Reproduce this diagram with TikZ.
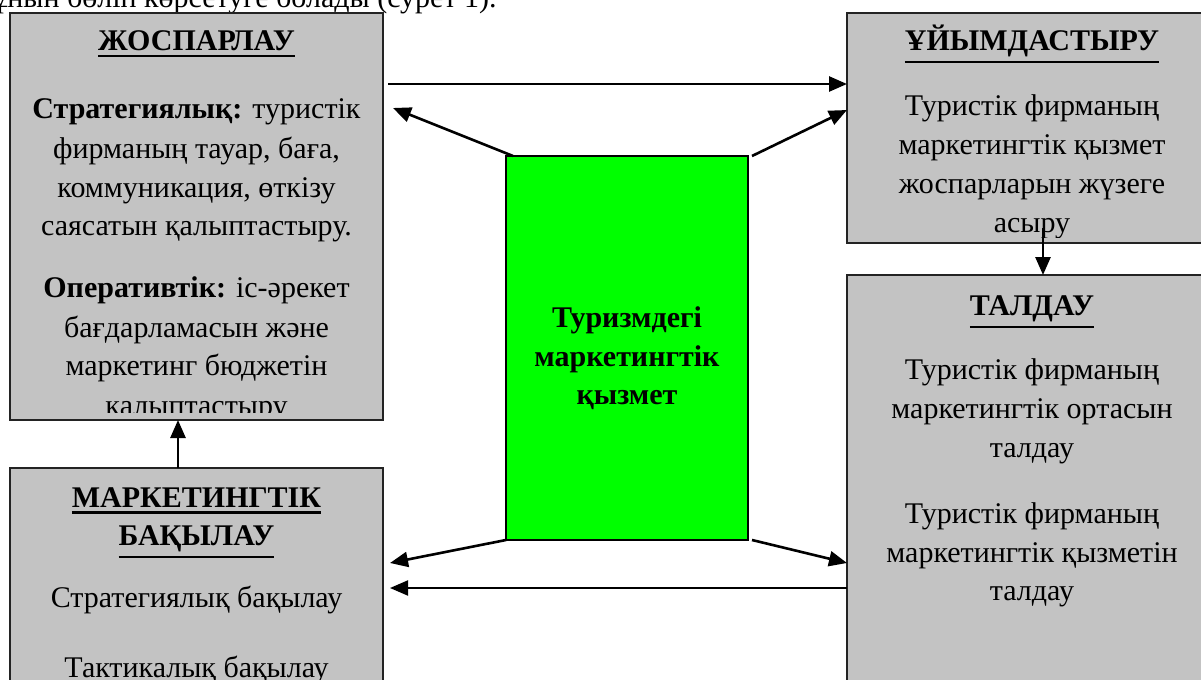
\documentclass[tikz,border=0pt]{standalone}
\usepackage{fontspec}
\setmainfont{Liberation Serif}
\usetikzlibrary{arrows.meta,calc}
\definecolor{boxgray}{RGB}{195,195,195}
\definecolor{boxline}{RGB}{35,35,35}
\definecolor{coregreen}{RGB}{0,255,0}
\newcommand\ttl[1]{\vtop{\hbox{\bfseries #1}\kern2.2pt\hrule height 1.3pt}}
\begin{document}
\begin{tikzpicture}[x=0.5pt,y=-0.5pt,
  box/.style={draw=boxline, line width=1pt, fill=boxgray, anchor=north west, inner sep=0pt, outer sep=0pt},
  corebox/.style={draw=black, line width=0.8pt, fill=coregreen, anchor=north west, inner sep=0pt, outer sep=0pt},
  txt/.style={anchor=base, inner sep=0pt, font=\fontsize{15pt}{18pt}\selectfont},
  arr/.style={-{Triangle[length=9pt,width=7.5pt]}, line width=1.3pt, draw=black}]
\useasboundingbox (0,0) rectangle (1201,680);
\clip (0,0) rectangle (1201,680);

% cut-off line of body text above the figure
\node[txt, anchor=base east] (intro) at (497,7) {змұнын бөліп көрсетуге болады (сурет 1).};

% boxes
\node[box, minimum width=186.5pt, minimum height=203.5pt] (plan) at (10,13) {};
\node[box, minimum width=186.5pt, minimum height=130pt] (ctrl) at (10,468) {};
\node[box, minimum width=185pt, minimum height=115pt] (org) at (847,13) {};
\node[box, minimum width=185pt, minimum height=222.5pt] (anal) at (847,275) {};
\node[corebox, minimum width=121pt, minimum height=192pt] (core) at (506,156) {};

% text of ЖОСПАРЛАУ
\begin{scope}
\clip (plan.north west) rectangle ($(plan.south east)+(0,-8)$);
\node[txt] (planT) at (196.5,50) {\ttl{ЖОСПАРЛАУ}};
\node[txt] (p1) at (196.5,119) {\textbf{Стратегиялық:} туристік};
\node[txt] (p2) at (196.5,158) {фирманың тауар, баға,};
\node[txt] (p3) at (196.5,197) {коммуникация, өткізу};
\node[txt] (p4) at (196.5,235) {саясатын қалыптастыру.};
\node[txt] (p5) at (196.5,297) {\textbf{Оперативтік:} іс-әрекет};
\node[txt] (p6) at (196.5,337) {бағдарламасын және};
\node[txt] (p7) at (196.5,375) {маркетинг бюджетін};
\node[txt] (p8) at (196.5,415) {қалыптастыру};
\end{scope}

% text of МАРКЕТИНГТІК БАҚЫЛАУ
\node[txt] (ctrlT1) at (196.5,507) {\ttl{МАРКЕТИНГТІК}};
\node[txt] (ctrlT2) at (196.5,545) {\ttl{БАҚЫЛАУ}};
\node[txt] (c1) at (196.5,607) {Стратегиялық бақылау};
\node[txt] (c2) at (196.5,677) {Тактикалық бақылау};

% text of ҰЙЫМДАСТЫРУ
\begin{scope}
\clip (org.north west) rectangle ($(org.south east)+(0,-6)$);
\node[txt] (orgT) at (1032,50) {\ttl{ҰЙЫМДАСТЫРУ}};
\node[txt] (o1) at (1032,115) {Туристік фирманың};
\node[txt] (o2) at (1032,154) {маркетингтік қызмет};
\node[txt] (o3) at (1032,193) {жоспарларын жүзеге};
\node[txt] (o4) at (1032,232) {асыру};
\end{scope}

% text of ТАЛДАУ
\node[txt] (analT) at (1032,315) {\ttl{ТАЛДАУ}};
\node[txt] (a1) at (1032,379) {Туристік фирманың};
\node[txt] (a2) at (1032,418) {маркетингтік ортасын};
\node[txt] (a3) at (1032,457) {талдау};
\node[txt] (a4) at (1032,523) {Туристік фирманың};
\node[txt] (a5) at (1032,562) {маркетингтік қызметін};
\node[txt] (a6) at (1032,600) {талдау};

% text of the centre box
\node[txt, font=\fontsize{15pt}{18pt}\selectfont\bfseries] (k1) at (627,327) {Туризмдегі};
\node[txt, font=\fontsize{15pt}{18pt}\selectfont\bfseries] (k2) at (627,366) {маркетингтік};
\node[txt, font=\fontsize{15pt}{18pt}\selectfont\bfseries] (k3) at (627,404) {қызмет};

% connectors
\draw[arr] ($(ctrl.north)+(-18.5,0)$) -- ($(plan.south)+(-18.5,0)$);
\draw[arr] ($(plan.north east)+(5,71)$) coordinate (t1) -- (t1 -| org.west);
\draw[arr] ($(core.north west)+(7,0)$) -- ($(plan.north east)+(10,95)$);
\draw[arr] ($(core.north east)+(4,0)$) -- ($(org.north west)+(0,97)$);
\draw[arr] (core.south west) -- ($(ctrl.north east)+(7,95)$);
\draw[arr] ($(core.south east)+(4,0)$) -- ($(anal.north west)+(0,288)$);
\draw[arr, line width=1pt] ($(anal.north west)+(0,313)$) coordinate (b1) -- ($(b1 -| ctrl.east)+(7,0)$);
\draw[arr] ($(org.south west)+(196,-15)$) -- ($(anal.north west)+(196,0)$);
\end{tikzpicture}
\end{document}
